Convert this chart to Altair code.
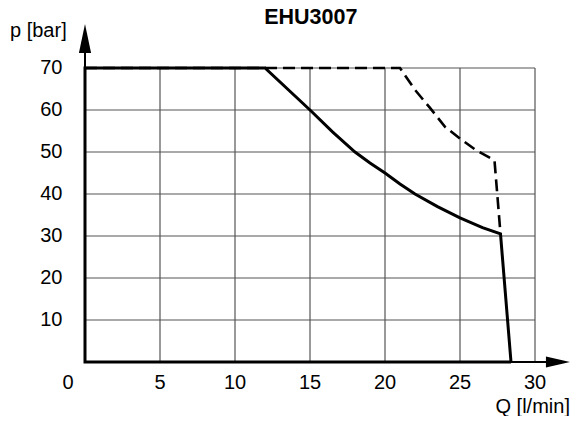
import altair as alt
import pandas as pd

# ---- data ----
grid_q = [5, 10, 15, 20, 25, 30]
grid_p = [10, 20, 30, 40, 50, 60, 70]
x_ticks = [5, 10, 15, 20, 25, 30]
y_ticks = [10, 20, 30, 40, 50, 60, 70]

solid_q = [28.4, 0, 0, 12, 15, 16.5, 18, 19, 20, 21, 22, 23.5, 25, 26.5, 27.7, 28.4]
solid_p = [0, 0, 70, 70, 60, 54.8, 50, 47.4, 45, 42.4, 40, 37, 34.3, 32, 30.5, 0]

dash_q = [0, 21, 22, 23, 24, 25, 26, 27.3, 27.7]
dash_p = [70, 70, 64.8, 60.5, 56, 53.2, 50.6, 48, 30.5]

title_text = "EHU3007"
y_title = "p [bar]"
x_title = "Q [l/min]"

FONT = "Liberation Sans"
xs = alt.Scale(domain=[0, 30], nice=False, zero=False)
ys = alt.Scale(domain=[0, 80], nice=False, zero=False)

def X(f):
    return alt.X(f, type="quantitative", scale=xs, axis=None)

def Y(f):
    return alt.Y(f, type="quantitative", scale=ys, axis=None)

vgrid = pd.DataFrame({"q": grid_q, "p0": [0] * len(grid_q), "p1": [70] * len(grid_q)})
hgrid = pd.DataFrame({"p": grid_p, "q0": [0] * len(grid_p), "q1": [30] * len(grid_p)})

vg = alt.Chart(vgrid).mark_rule(color="#555555", strokeWidth=1.2).encode(
    x=X("q"), y=Y("p0"), y2="p1")
hg = alt.Chart(hgrid).mark_rule(color="#555555", strokeWidth=1.2).encode(
    y=Y("p"), x=X("q0"), x2="q1")

# thin axis shafts
xaxis = alt.Chart(pd.DataFrame({"q0": [0], "q1": [30.8], "p": [0]})).mark_rule(
    color="black", strokeWidth=2).encode(x=X("q0"), x2="q1", y=Y("p"))
yaxis = alt.Chart(pd.DataFrame({"q": [0], "p0": [70], "p1": [74]})).mark_rule(
    color="black", strokeWidth=2).encode(x=X("q"), y=Y("p0"), y2="p1")

# arrow heads
xarrow = alt.Chart(pd.DataFrame({"q": [31.53], "p": [0]})).mark_point(
    shape="M-1,-0.46L1,0L-1,0.46Z", filled=True, size=576, color="black",
    opacity=1, strokeWidth=0).encode(x=X("q"), y=Y("p"))
yarrow = alt.Chart(pd.DataFrame({"q": [0], "p": [77]})).mark_point(
    shape="M-0.42,1L0,-1L0.42,1Z", filled=True, size=841, color="black",
    opacity=1, strokeWidth=0).encode(x=X("q"), y=Y("p"))

dash_df = pd.DataFrame({"q": dash_q, "p": dash_p, "i": list(range(len(dash_q)))})
dashed = alt.Chart(dash_df).mark_line(color="black", strokeWidth=2.6,
                                       strokeDash=[12, 6]).encode(
    x=X("q"), y=Y("p"), order="i:Q")

solid_df = pd.DataFrame({"q": solid_q, "p": solid_p, "i": list(range(len(solid_q)))})
solid = alt.Chart(solid_df).mark_line(color="black", strokeWidth=3).encode(
    x=X("q"), y=Y("p"), order="i:Q")

# tick labels
xt = pd.DataFrame({"q": x_ticks, "p": [-5] * len(x_ticks), "t": [str(v) for v in x_ticks]})
xlab = alt.Chart(xt).mark_text(font=FONT, fontSize=20, align="center",
                               baseline="middle", color="black").encode(
    x=X("q"), y=Y("p"), text="t:N")
zero = alt.Chart(pd.DataFrame({"q": [-1.13], "p": [-5], "t": ["0"]})).mark_text(
    font=FONT, fontSize=20, align="center", baseline="middle", color="black").encode(
    x=X("q"), y=Y("p"), text="t:N")
yt = pd.DataFrame({"p": y_ticks, "q": [-1.5] * len(y_ticks), "t": [str(v) for v in y_ticks]})
ylab = alt.Chart(yt).mark_text(font=FONT, fontSize=20, align="right",
                               baseline="middle", color="black").encode(
    x=X("q"), y=Y("p"), text="t:N")

ttl = alt.Chart(pd.DataFrame({"q": [15.05], "p": [80.45], "t": [title_text]})).mark_text(
    font=FONT, fontSize=21.5, fontWeight="bold", align="center",
    baseline="alphabetic", color="black").encode(x=X("q"), y=Y("p"), text="t:N")
ytl = alt.Chart(pd.DataFrame({"q": [-5], "p": [77.4], "t": [y_title]})).mark_text(
    font=FONT, fontSize=20, align="left", baseline="alphabetic", color="black").encode(
    x=X("q"), y=Y("p"), text="t:N")
xtl = alt.Chart(pd.DataFrame({"q": [32.33], "p": [-10.7], "t": [x_title]})).mark_text(
    font=FONT, fontSize=20, align="right", baseline="middle", color="black").encode(
    x=X("q"), y=Y("p"), text="t:N")

chart = alt.layer(vg, hg, xaxis, yaxis, xarrow, yarrow, dashed, solid,
                  xlab, zero, ylab, ttl, ytl, xtl).properties(
    width=450, height=336,
    autosize=alt.AutoSizeParams(type="none"),
    padding={"left": 77, "top": 18, "right": 36, "bottom": 54},
    background="white",
).configure_view(stroke=None)

chart.save("out.html", embed_options={"renderer": "svg", "actions": False})
